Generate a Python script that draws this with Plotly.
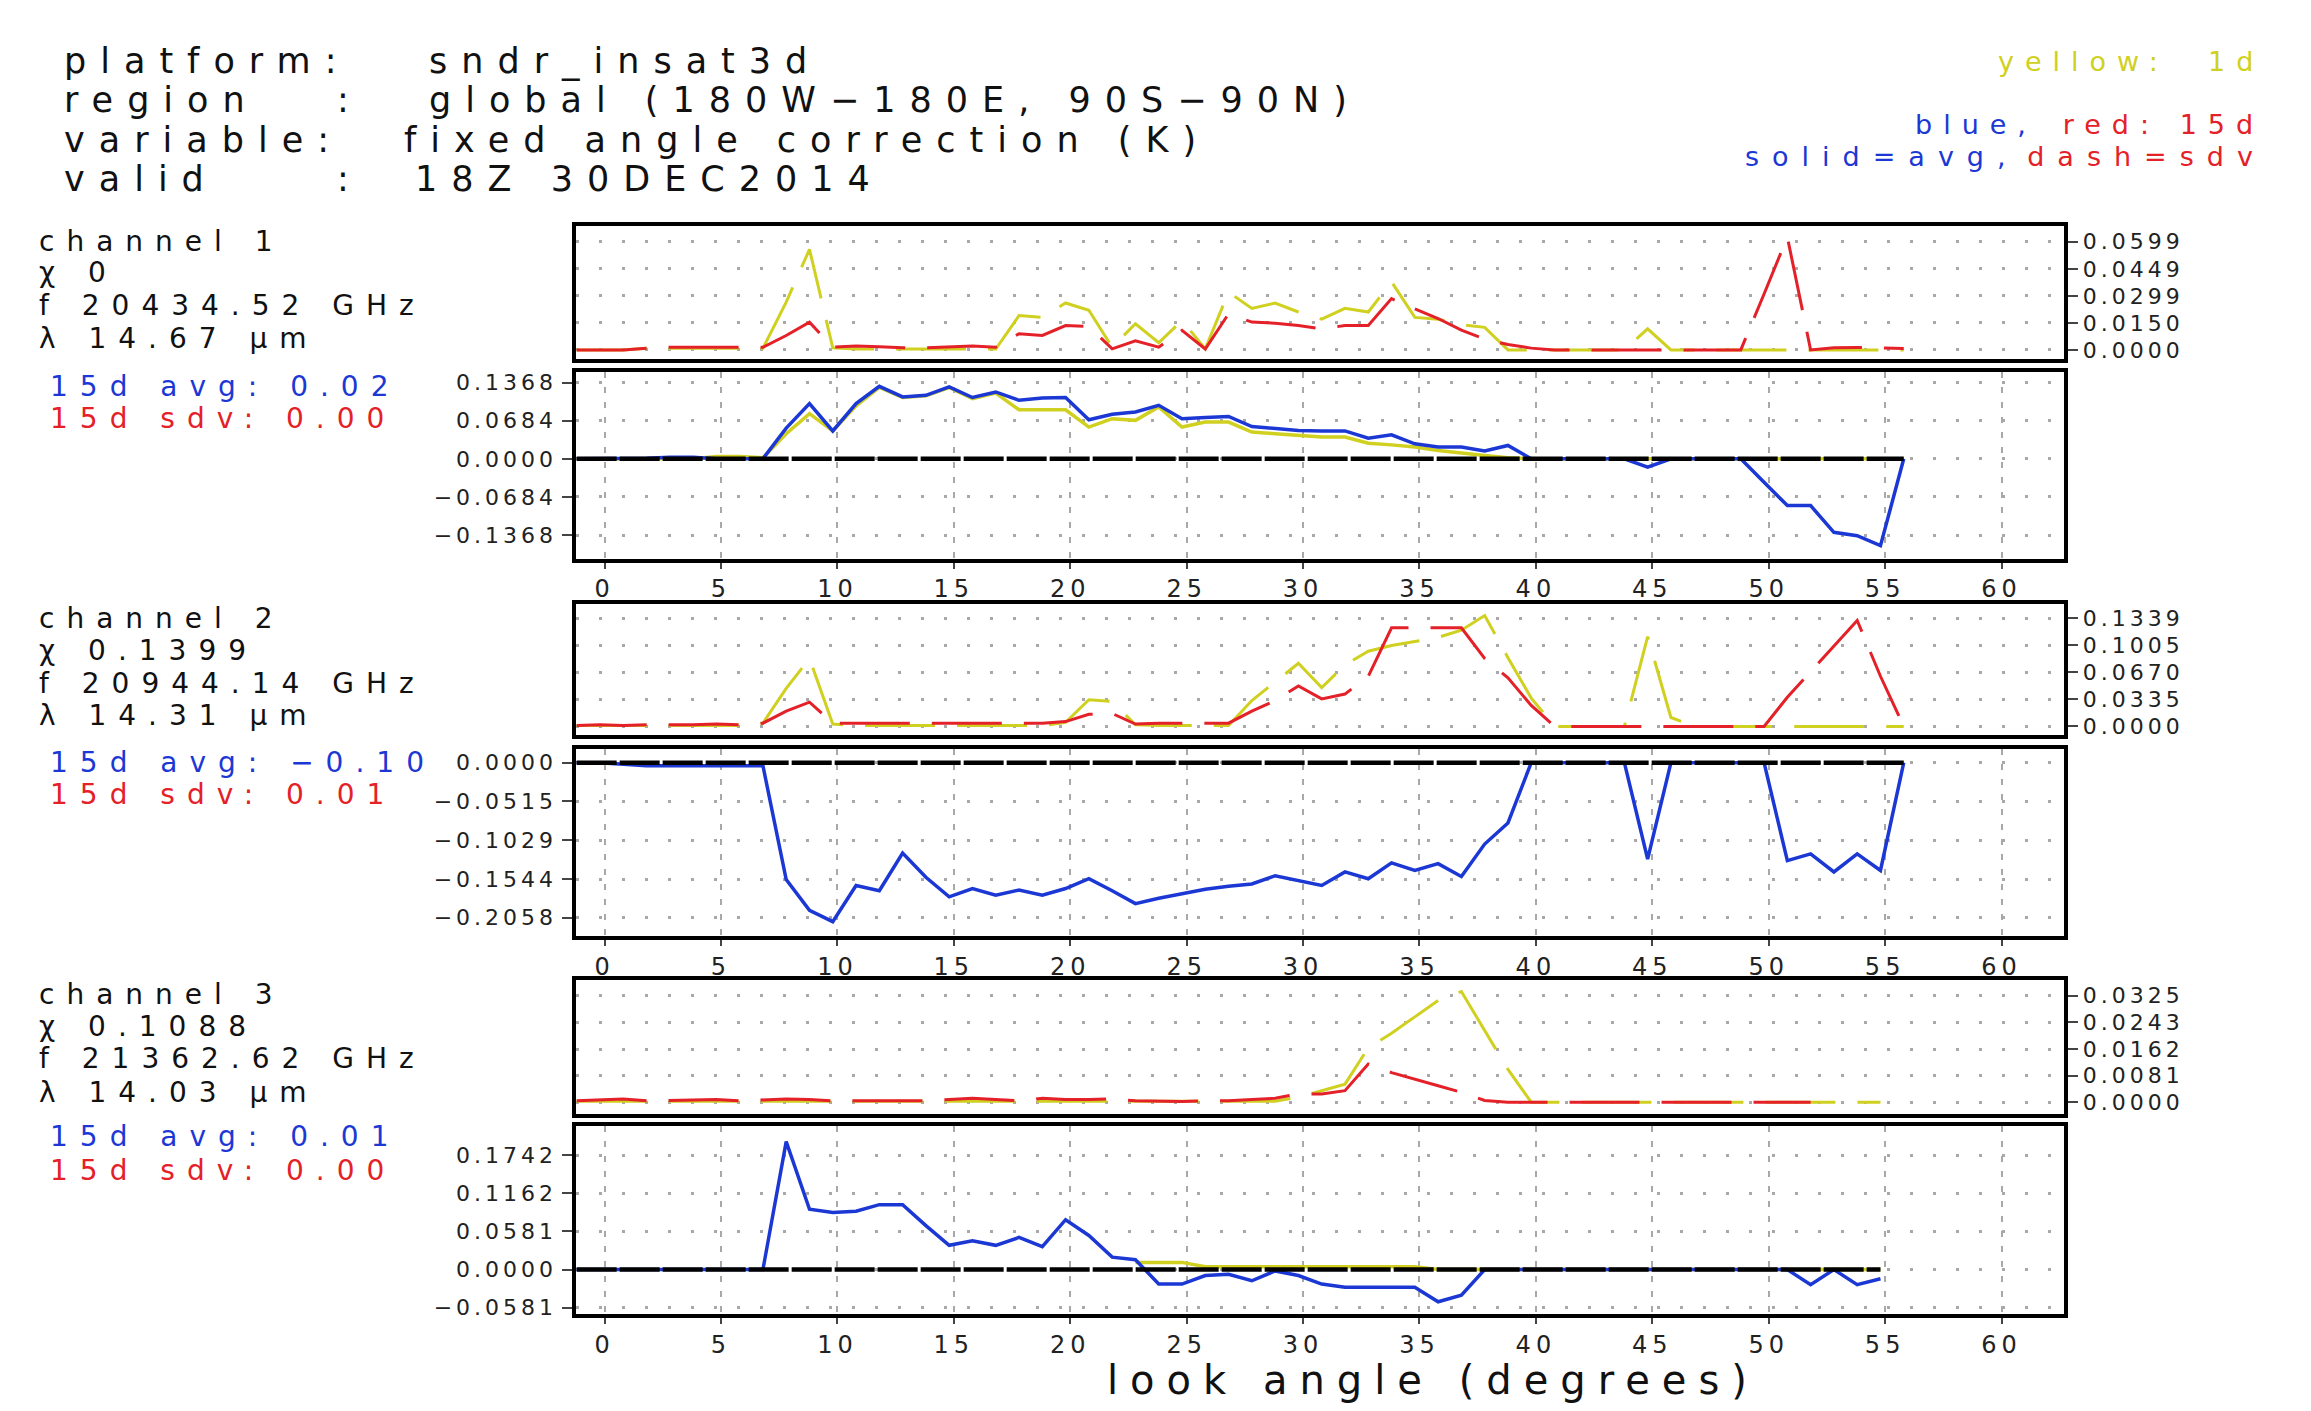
import plotly.graph_objects as go

# ---------------- data ----------------
# look angle sample positions (degrees)
ANGLES = [k - 0.2 for k in range(-1, 57)]

# channel 1
CH1_SDV_1D = [0, 0, 0, 0.001, 0.001, 0.001, 0.001, 0.001, 0.001, 0.0265, 0.0557, 0.0012,
              0.0005, 0.0005, 0.0005, 0.0005, 0.0005, 0.0005, 0.0005, 0.019, 0.018, 0.026,
              0.022, 0.0015, 0.0145, 0.004, 0.0163, 0.0006, 0.032, 0.023, 0.026, 0.021,
              0.017, 0.023, 0.021, 0.0377, 0.018, 0.017, 0.014, 0.0125, 0.0,
              0, 0, 0, 0, 0, 0.0117, 0, 0, 0, 0, 0, 0, 0, 0, 0, 0, 0]
CH1_SDV_15D = [0, 0, 0, 0.001, 0.0015, 0.0015, 0.0015, 0.0015, 0.0015, 0.008, 0.0154, 0.0015,
               0.0022, 0.0018, 0.0012, 0.0012, 0.0018, 0.0022, 0.0015, 0.009, 0.008, 0.0135,
               0.013, 0.0006, 0.005, 0.0015, 0.0108, 0.0005, 0.020, 0.0154, 0.0148, 0.0135,
               0.0117, 0.0135, 0.0135, 0.0284, 0.0228, 0.0174, 0.011, 0.006, 0.003, 0.001,
               0, 0, 0, 0, 0, 0, 0, 0, 0, 0.031, 0.0625, 0.0, 0.0012, 0.0014, 0.0010, 0.0008]
CH1_AVG_1D = [0, 0, 0, 0, 0, 0, 0.004, 0.004, 0.002, 0.045, 0.081, 0.050, 0.095, 0.128,
              0.110, 0.113, 0.128, 0.108, 0.118, 0.088, 0.088, 0.088, 0.057, 0.072, 0.069,
              0.093, 0.057, 0.066, 0.066, 0.048, 0.045, 0.042, 0.039, 0.039, 0.028, 0.025,
              0.021, 0.015, 0.010, 0.006, 0.002,
              0, 0, 0, 0, 0, 0, 0, 0, 0, 0, 0, 0, 0, 0, 0, 0, 0]
CH1_AVG_15D = [0, 0, 0, 0.001, 0.003, 0.003, 0, 0, 0, 0.055, 0.099, 0.050, 0.099, 0.130,
               0.111, 0.114, 0.129, 0.110, 0.120, 0.105, 0.109, 0.110, 0.070, 0.080, 0.084,
               0.096, 0.072, 0.074, 0.076, 0.058, 0.055, 0.051, 0.050, 0.050, 0.037, 0.043,
               0.027, 0.021, 0.021, 0.014, 0.024, 0, 0, 0, 0, 0, -0.015, 0, 0, 0, 0,
               -0.042, -0.084, -0.084, -0.132, -0.138, -0.156, 0]

# channel 2
CH2_SDV_1D = [0.001, 0.001, 0.001, 0.001, 0.001, 0.001, 0.001, 0.001, 0.004, 0.047, 0.084,
              0.003, 0.001, 0.001, 0.001, 0.001, 0.001, 0.001, 0.001, 0.001, 0.001, 0.005,
              0.033, 0.031, 0.002, 0.001, 0.001, 0.001, 0.001, 0.032, 0.055, 0.078, 0.048,
              0.076, 0.093, 0.100, 0.105, 0.110, 0.119, 0.137, 0.085, 0.035, 0, 0, 0, 0,
              0.111, 0.011, 0, 0, 0, 0, 0, 0, 0, 0, 0, 0]
CH2_SDV_15D = [0.001, 0.002, 0.001, 0.002, 0.002, 0.002, 0.003, 0.002, 0.004, 0.019, 0.030,
               0.004, 0.004, 0.004, 0.004, 0.004, 0.004, 0.004, 0.004, 0.004, 0.004, 0.006,
               0.015, 0.016, 0.003, 0.004, 0.004, 0.004, 0.004, 0.019, 0.032, 0.050, 0.034,
               0.040, 0.062, 0.122, 0.122, 0.122, 0.122, 0.084, 0.060, 0.026,
               0, 0, 0, 0, 0, 0, 0, 0, 0, 0, 0.036, 0.068, 0.099, 0.131, 0.062, 0]
CH2_AVG_15D = [0, 0, -0.002, -0.004, -0.004, -0.004, -0.004, -0.004, -0.004, -0.155, -0.196,
               -0.211, -0.163, -0.170, -0.120, -0.152, -0.178, -0.167, -0.176, -0.169, -0.176,
               -0.167, -0.154, -0.170, -0.187, -0.180, -0.174, -0.168, -0.164, -0.161, -0.150,
               -0.157, -0.163, -0.145, -0.154, -0.133, -0.143, -0.134, -0.151, -0.108, -0.080,
               0, 0, 0, 0, 0, -0.128, 0, 0, 0, 0, 0, -0.130, -0.121, -0.145, -0.121, -0.143, 0]

# channel 3
CH3_SDV_1D = [0.0003] * 31 + [0.0015, 0.0035, 0.0055, 0.0166, 0.021, 0.026, 0.031, 0.0337,
                              0.022, 0.010] + [0] * 16 + [None]
CH3_SDV_15D = [0.0004, 0.0008, 0.0010, 0.0004, 0.0006, 0.0008, 0.0008, 0.0004, 0.0008, 0.0010,
               0.0008, 0.0004, 0.0004, 0.0004, 0.0004, 0.0004, 0.0008, 0.0012, 0.0008, 0.0004,
               0.0012, 0.0008, 0.0008, 0.0010, 0.0004, 0.0002, 0.0002, 0.0004, 0.0004, 0.0008,
               0.0012, 0.0025, 0.0025, 0.0035, 0.0116, 0.009, 0.0071, 0.0050, 0.003, 0.0005,
               0, 0, 0, 0, 0, 0, 0, 0, 0, 0, 0, 0, 0, 0, None, None, None, None]
CH3_AVG_1D = [None] * 24 + [0.011, 0.011, 0.011] + [0.0045] * 10 + [0] * 20 + [None]
CH3_AVG_15D = [0, 0, 0, 0, 0, 0, 0, 0, 0, 0.195, 0.092, 0.087, 0.089, 0.099, 0.099, 0.067,
               0.037, 0.044, 0.037, 0.049, 0.035, 0.076, 0.052, 0.019, 0.015, -0.022, -0.022,
               -0.009, -0.007, -0.017, -0.002, -0.009, -0.022, -0.027, -0.027, -0.027, -0.027,
               -0.049, -0.039, 0, 0, 0, 0, 0, 0, 0, 0, 0, 0, 0, 0, 0, 0, -0.023, 0, -0.023,
               -0.014, None]

ZERO_END = [55.8, 55.8, 54.8]

CHANNEL_INFO = [
    ["channel 1", "χ 0", "f 20434.52 GHz", "λ 14.67 μm"],
    ["channel 2", "χ 0.1399", "f 20944.14 GHz", "λ 14.31 μm"],
    ["channel 3", "χ 0.1088", "f 21362.62 GHz", "λ 14.03 μm"],
]
AVG_TEXT = ["15d avg: 0.02", "15d avg: −0.10", "15d avg: 0.01"]
SDV_TEXT = ["15d sdv: 0.00", "15d sdv: 0.01", "15d sdv: 0.00"]

UP_TICKS = [["0.0000", "0.0150", "0.0299", "0.0449", "0.0599"],
            ["0.0000", "0.0335", "0.0670", "0.1005", "0.1339"],
            ["0.0000", "0.0081", "0.0162", "0.0243", "0.0325"]]
LOW_TICKS = [["−0.1368", "−0.0684", "0.0000", "0.0684", "0.1368"],
             ["−0.2058", "−0.1544", "−0.1029", "−0.0515", "0.0000"],
             ["−0.0581", "0.0000", "0.0581", "0.1162", "0.1742"]]
X_TICKS = [0, 5, 10, 15, 20, 25, 30, 35, 40, 45, 50, 55, 60]

# ---------------- style / layout ----------------
W, H = 2311, 1411
FONT = "DejaVu Sans"
YEL = "#d0d020"
RED = "#e42028"
BLU = "#1c38d4"
LW = 4  # frame line width


def fx(p):
    return p / W


def fy(p):
    return 1 - p / H


def sp(s, ls, color=None):
    st = f"letter-spacing:{ls}px"
    if color:
        st += f";color:{color}"
    return f'<span style="{st}">{s}</span>'


X_DOM = [fx(573.5 + LW / 2), fx(2066.4 - LW / 2)]
X_RANGE = [-1.25, 62.70]
UP_FRAMES = [(223.5, 361.0), (603.3, 739.5), (981.7, 1120.0)]
LOW_FRAMES = [(370.0, 561.7), (749.0, 941.7), (1128.3, 1321.7)]
UP_RANGES = [[-0.0050, 0.0685], [-0.0110, 0.1515], [-0.0035, 0.0372]]
LOW_RANGES = [[-0.1790, 0.1560], [-0.2305, 0.0185], [-0.0680, 0.2190]]

series = [
    (CH1_SDV_1D, CH1_SDV_15D, CH1_AVG_1D, CH1_AVG_15D),
    (CH2_SDV_1D, CH2_SDV_15D, None, CH2_AVG_15D),
    (CH3_SDV_1D, CH3_SDV_15D, CH3_AVG_1D, CH3_AVG_15D),
]

fig = go.Figure()


def ax(n):
    return ("x" if n == 1 else f"x{n}"), ("y" if n == 1 else f"y{n}")


DASH = "70px,22px"
for c in range(3):
    up = 2 * c + 1
    lo = 2 * c + 2
    sdv1, sdv15, avg1, avg15 = series[c]
    xa, ya = ax(up)
    fig.add_trace(go.Scatter(x=ANGLES, y=sdv1, mode="lines", xaxis=xa, yaxis=ya,
                             line=dict(color=YEL, width=3, dash=DASH), connectgaps=False))
    fig.add_trace(go.Scatter(x=ANGLES, y=sdv15, mode="lines", xaxis=xa, yaxis=ya,
                             line=dict(color=RED, width=3, dash=DASH), connectgaps=False))
    xa, ya = ax(lo)
    if avg1 is not None:
        fig.add_trace(go.Scatter(x=ANGLES, y=avg1, mode="lines", xaxis=xa, yaxis=ya,
                                 line=dict(color=YEL, width=3.5)))
    fig.add_trace(go.Scatter(x=ANGLES, y=avg15, mode="lines", xaxis=xa, yaxis=ya,
                             line=dict(color=BLU, width=3.5)))
    fig.add_trace(go.Scatter(x=[ANGLES[0], ZERO_END[c]], y=[0, 0], mode="lines",
                             xaxis=xa, yaxis=ya,
                             line=dict(color="black", width=4.5, dash="40px,3px")))

layout = dict(
    width=W, height=H, margin=dict(l=0, r=0, t=0, b=0),
    paper_bgcolor="white", plot_bgcolor="white", showlegend=False,
    font=dict(family=FONT, color="#111"),
)

GRID_COL = "#a8a8a8"
for c in range(3):
    for kind in ("up", "lo"):
        n = 2 * c + 1 if kind == "up" else 2 * c + 2
        frame = UP_FRAMES[c] if kind == "up" else LOW_FRAMES[c]
        ydom = [fy(frame[1] - LW / 2), fy(frame[0] + LW / 2)]
        xkey = "xaxis" if n == 1 else f"xaxis{n}"
        ykey = "yaxis" if n == 1 else f"yaxis{n}"
        lower = kind == "lo"
        layout[xkey] = dict(
            domain=X_DOM, range=X_RANGE, anchor=("y" if n == 1 else f"y{n}"),
            tickvals=X_TICKS, ticktext=[sp(str(v), 5) for v in X_TICKS],
            ticks="outside" if lower else "", ticklen=6, tickwidth=2,
            showticklabels=lower, tickfont=dict(size=24, family=FONT, color="#222"),
            showgrid=lower, gridcolor=GRID_COL, griddash="6px,9px", gridwidth=1.5,
            showline=True, mirror=True, linecolor="black", linewidth=LW, zeroline=False,
        )
        labels = UP_TICKS[c] if kind == "up" else LOW_TICKS[c]
        vals = [float(t.replace("−", "-")) for t in labels]
        layout[ykey] = dict(
            domain=ydom, range=UP_RANGES[c] if kind == "up" else LOW_RANGES[c],
            anchor=("x" if n == 1 else f"x{n}"), side="left" if lower else "right",
            tickvals=vals, ticktext=[sp(t, 4) for t in labels],
            ticks="outside", ticklen=10, tickwidth=2,
            tickfont=dict(size=22, family=FONT, color="#222"),
            showgrid=True, gridcolor=GRID_COL, griddash="3px,20px", gridwidth=2.5,
            showline=True, mirror=True, linecolor="black", linewidth=LW, zeroline=False,
        )

ann = []


def txt(s, x, y, size, color="#111", xanchor="left"):
    ann.append(dict(text=s, x=fx(x), y=fy(y), xref="paper", yref="paper",
                    xanchor=xanchor, yanchor="middle", showarrow=False,
                    font=dict(size=size, family=FONT, color=color)))


HS = 35
HL = 14
txt(sp("platform:", HL), 62, 59, HS)
txt(sp("sndr_insat3d", HL), 427, 59, HS)
txt(sp("region", HL), 62, 99, HS)
txt(sp(":", HL), 335, 99, HS)
txt(sp("global (180W−180E, 90S−90N)", HL), 427, 99, HS)
txt(sp("variable:", HL), 62, 139, HS)
txt(sp("fixed angle correction (K)", HL), 402, 139, HS)
txt(sp("valid", HL), 62, 178, HS)
txt(sp(":", HL), 335, 178, HS)
txt(sp("18Z 30DEC2014", HL), 413, 178, HS)

RS = 27
RL = 11
txt(sp("yellow:  1d", RL, YEL), 2266, 60, RS, YEL, "right")
txt(sp("blue,", RL, BLU) + "   " + sp("red: 15d", RL, RED), 2266, 123, RS, RED, "right")
txt(sp("solid=avg,", 13, BLU) + " " + sp("dash=sdv", 13, RED), 2268, 155, RS, RED, "right")

CH_Y = [(241, 272, 305, 338, 387, 419), (620, 652, 685, 718, 765, 797),
        (998, 1030, 1063, 1097, 1141, 1175)]
CL = 12
for c in range(3):
    ys = CH_Y[c]
    for i, line in enumerate(CHANNEL_INFO[c]):
        txt(sp(line, CL), 37, ys[i], 28)
    txt(sp(AVG_TEXT[c], CL, BLU), 48, ys[4], 28, BLU)
    txt(sp(SDV_TEXT[c], CL, RED), 48, ys[5], 28, RED)

ann.append(dict(text=sp("look angle (degrees)", 12), x=fx(1433), y=fy(1386), xref="paper",
                yref="paper", xanchor="center", yanchor="middle", showarrow=False,
                font=dict(size=40, family=FONT, color="#111")))
layout["annotations"] = ann

fig.update_layout(**layout)
fig.write_html("out.html", config={"displayModeBar": False},
               post_script="document.body.style.margin='0';")
